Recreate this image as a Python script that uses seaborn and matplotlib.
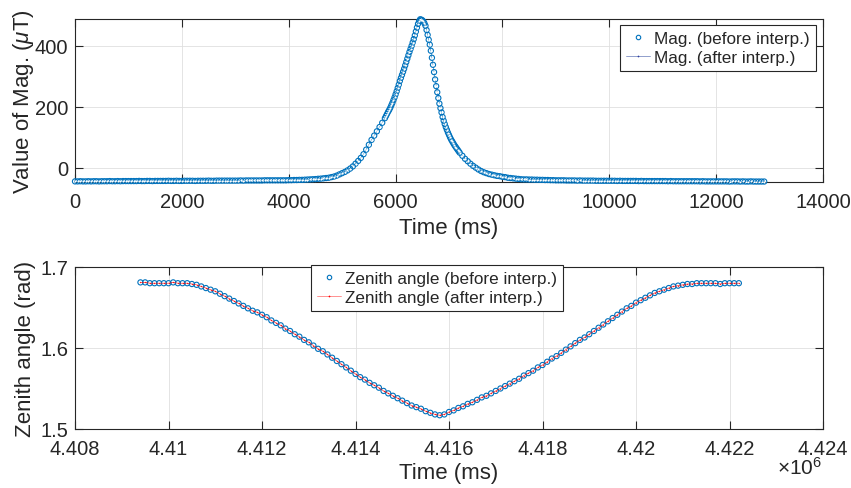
import matplotlib
matplotlib.use("Agg")
import matplotlib.pyplot as plt
from matplotlib.lines import Line2D
import seaborn as sns
import pandas as pd

# ---------------- data ----------------
mag_time = [
    0, 50, 100, 150, 200, 250, 300, 350, 400, 450,
    500, 550, 600, 650, 700, 750, 800, 850, 900, 950,
    1000, 1050, 1100, 1150, 1200, 1250, 1300, 1350, 1400, 1450,
    1500, 1550, 1600, 1650, 1700, 1750, 1800, 1850, 1900, 1950,
    2000, 2050, 2100, 2150, 2200, 2250, 2300, 2350, 2400, 2450,
    2500, 2550, 2600, 2650, 2700, 2750, 2800, 2850, 2900, 2950,
    3000, 3050, 3100, 3150, 3200, 3250, 3300, 3350, 3400, 3450,
    3500, 3550, 3600, 3650, 3700, 3750, 3800, 3850, 3900, 3950,
    4000, 4050, 4100, 4150, 4200, 4250, 4300, 4350, 4400, 4450,
    4500, 4550, 4600, 4650, 4700, 4750, 4800,
    4850, 4900, 4950, 5000, 5050, 5100, 5150, 5200, 5250, 5300,
    5350, 5400, 5450, 5500, 5550, 5600, 5650, 5700, 5750, 5800,
    5820, 5840, 5860, 5880, 5900, 5920, 5940, 5960, 5980, 6000,
    6020, 6040, 6060, 6080, 6100, 6120, 6140, 6160, 6180, 6200,
    6220, 6240, 6260, 6280, 6300, 6320, 6340, 6360, 6380, 6400,
    6420, 6440, 6460, 6480, 6500, 6520, 6540, 6560, 6580, 6600,
    6620, 6640, 6660, 6680, 6700, 6720, 6740, 6760, 6780, 6800,
    6820, 6840, 6860, 6880, 6900, 6920, 6940, 6960, 6980, 7000,
    7020, 7040, 7060, 7080, 7100, 7120, 7140, 7160, 7180, 7200,
    7250, 7300, 7350, 7400, 7450, 7500, 7550, 7600, 7650, 7700,
    7750, 7800, 7850, 7900, 7950, 8000, 8050, 8100, 8150, 8200,
    8250, 8300, 8350, 8400,
    8450, 8500, 8550, 8600, 8650, 8700, 8750, 8800, 8850, 8900,
    8950, 9000, 9050, 9100, 9150, 9200, 9250, 9300, 9350, 9400,
    9450, 9500, 9550, 9600, 9650, 9700, 9750, 9800, 9850, 9900,
    9950, 10000, 10050, 10100, 10150, 10200, 10250, 10300, 10350, 10400,
    10450, 10500, 10550, 10600, 10650, 10700, 10750, 10800, 10850, 10900,
    10950, 11000, 11050, 11100, 11150, 11200, 11250, 11300, 11350, 11400,
    11450, 11500, 11550, 11600, 11650, 11700, 11750, 11800, 11850, 11900,
    11950, 12000, 12050, 12100, 12150, 12200, 12250, 12300, 12350, 12400,
    12450, 12500, 12550, 12600, 12650, 12700, 12750, 12800, 12850, 12900,
]
mag_value = [
    -44, -44, -43.5, -44, -44, -43.5, -44, -43.5, -43.5, -44,
    -43.5, -43.5, -43.5, -43, -43.5, -43.5, -43, -43.5, -43, -43,
    -43, -43, -43, -43, -42.5, -43, -43, -42.5, -42.5, -43,
    -42.5, -42.5, -42.5, -42.5, -42.5, -42, -42.5, -42.5, -42, -42.5,
    -42.5, -42, -42, -42, -42, -42.5, -42, -42, -42, -42,
    -41.5, -42, -42, -41.5, -41.5, -41.5, -41.5, -41.5, -41.5, -41.5,
    -41.5, -41.5, -41, -41.5, -41, -41, -41, -41, -41, -41,
    -41, -40.5, -40.5, -40.5, -40.5, -40.5, -40.5, -40.5, -40.5, -40.5,
    -40, -40, -39.5, -39.5, -39, -39, -38.5, -38, -37.5, -37,
    -36.5, -35.5, -35, -34, -33, -32, -30,
    -28, -25, -21, -17, -13, -8, -2, 5, 14, 23,
    33, 45, 60, 76, 92, 106, 120, 134, 148, 163,
    170, 177, 184, 190, 197, 205, 213, 222, 231, 241,
    251, 262, 273, 285, 295, 305, 315, 325, 336, 347,
    358, 369, 380, 390, 400, 411, 422, 434, 447, 460,
    472, 481, 487, 486, 484, 480, 474, 466, 452, 436,
    420, 404, 384, 361, 338, 314, 290, 268, 248, 229,
    211, 196, 182, 167, 155, 144, 134, 125, 116, 108,
    100, 93, 87, 81, 75, 70, 65, 60, 55, 50,
    40, 30, 22, 14, 7, 1, -5, -10, -14, -17,
    -20, -22, -24, -26, -27, -29, -30, -32, -33, -34,
    -35, -36, -37, -37.5,
    -37.5, -38, -38, -38.5, -38.5, -39, -39, -39.5, -39.5, -40,
    -40, -40.5, -40.5, -40.5, -40.5, -41, -41, -41, -41, -41.5,
    -41, -41.5, -41.5, -41.5, -41.5, -41.5, -42, -42, -42, -42,
    -42, -42, -42, -42, -42.5, -42, -42.5, -42.5, -42.5, -42.5,
    -42.5, -42.5, -43, -42.5, -43, -43, -43, -43, -43, -43,
    -43, -43, -43, -43.5, -43, -43.5, -43.5, -43.5, -43.5, -43.5,
    -43.5, -43.5, -43.5, -43.5, -43.5, -44, -43.5, -44, -44, -44,
    -44, -44, -44, -44, -44, -44, -44.5, -44, -44, -44,
    -44.5, -44, -44.5, -44.5, -44, -44.5, -44.5, -44.5, -44.5, -44.5,
]

zen_time = [
    4409400, 4409500, 4409600, 4409700, 4409800, 4409900, 4410000, 4410100, 4410200, 4410300,
    4410400, 4410500, 4410600, 4410700, 4410800, 4410900, 4411000, 4411100, 4411200, 4411300,
    4411400, 4411500, 4411600, 4411700, 4411800, 4411900, 4412000, 4412100, 4412200, 4412300,
    4412400, 4412500, 4412600, 4412700, 4412800, 4412900, 4413000, 4413100, 4413200, 4413300,
    4413400, 4413500, 4413600, 4413700, 4413800, 4413900, 4414000, 4414100, 4414200, 4414300,
    4414400, 4414500, 4414600, 4414700, 4414800, 4414900, 4415000, 4415100, 4415200, 4415300,
    4415400, 4415500, 4415600, 4415700, 4415800, 4415900, 4416000, 4416100, 4416200, 4416300,
    4416400, 4416500, 4416600, 4416700, 4416800, 4416900, 4417000, 4417100, 4417200, 4417300,
    4417400, 4417500, 4417600, 4417700, 4417800, 4417900, 4418000, 4418100, 4418200, 4418300,
    4418400, 4418500, 4418600, 4418700, 4418800, 4418900, 4419000, 4419100, 4419200, 4419300,
    4419400, 4419500, 4419600, 4419700, 4419800, 4419900, 4420000, 4420100, 4420200, 4420300,
    4420400, 4420500, 4420600, 4420700, 4420800, 4420900, 4421000, 4421100, 4421200, 4421300,
    4421400, 4421500, 4421600, 4421700, 4421800, 4421900, 4422000, 4422100, 4422200,
]
zen_value = [
    1.681, 1.681, 1.680, 1.680, 1.680, 1.680, 1.680, 1.681, 1.680, 1.680,
    1.680, 1.679, 1.678, 1.676, 1.674, 1.672, 1.670, 1.667, 1.664, 1.661,
    1.658, 1.655, 1.652, 1.649, 1.646, 1.644, 1.641, 1.638, 1.634, 1.631,
    1.628, 1.624, 1.621, 1.617, 1.614, 1.610, 1.607, 1.603, 1.599, 1.596,
    1.592, 1.588, 1.584, 1.580, 1.576, 1.572, 1.568, 1.564, 1.561, 1.557,
    1.554, 1.551, 1.547, 1.544, 1.541, 1.538, 1.535, 1.532, 1.529, 1.527,
    1.525, 1.522, 1.520, 1.518, 1.517, 1.518, 1.521, 1.523, 1.526, 1.528,
    1.531, 1.533, 1.536, 1.539, 1.541, 1.544, 1.547, 1.550, 1.553, 1.556,
    1.559, 1.562, 1.566, 1.569, 1.572, 1.576, 1.579, 1.583, 1.587, 1.590,
    1.594, 1.598, 1.602, 1.606, 1.610, 1.613, 1.617, 1.621, 1.625, 1.629,
    1.633, 1.637, 1.641, 1.645, 1.649, 1.652, 1.656, 1.659, 1.662, 1.665,
    1.668, 1.670, 1.672, 1.674, 1.676, 1.677, 1.678, 1.679, 1.679, 1.680,
    1.680, 1.680, 1.680, 1.680, 1.679, 1.680, 1.680, 1.680, 1.680,
]

top_xticks = [0, 2000, 4000, 6000, 8000, 10000, 12000, 14000]
top_yticks = [0, 200, 400]
bot_xticks = [4408000, 4410000, 4412000, 4414000, 4416000, 4418000, 4420000, 4422000, 4424000]
bot_xticklabels = ["4.408", "4.41", "4.412", "4.414", "4.416", "4.418", "4.42", "4.422", "4.424"]
bot_yticks = [1.5, 1.6, 1.7]

mag_df = pd.DataFrame({"t": mag_time, "v": mag_value})
zen_df = pd.DataFrame({"t": zen_time, "v": zen_value})

# ---------------- style ----------------
sns.set_theme(style="white")
plt.rcParams["font.family"] = ["Liberation Sans", "DejaVu Sans"]
plt.rcParams["mathtext.fontset"] = "custom"
plt.rcParams["mathtext.rm"] = "Liberation Sans"
plt.rcParams["mathtext.it"] = "Liberation Sans:italic"
TXT = "#262626"
BLUE = "#0072BD"
W, H = 851, 489
TICK_FS = 14.5
LABEL_FS = 16
LEG_FS = 12.3

fig = plt.figure(figsize=(W / 100, H / 100), dpi=100)
fig.patch.set_facecolor("white")


def fx(px):
    return px / W


def fy(py):
    return 1 - py / H


ax1 = fig.add_axes([fx(75), fy(183.3), fx(823) - fx(75), fy(20) - fy(183.3)])
ax2 = fig.add_axes([fx(75), fy(430), fx(823) - fx(75), fy(268) - fy(430)])

# top panel
sns.scatterplot(data=mag_df, x="t", y="v", ax=ax1, marker="o", s=14,
                facecolors="none", edgecolor=BLUE, linewidth=0.8, legend=False,
                zorder=3, clip_on=False)
sns.lineplot(data=mag_df, x="t", y="v", ax=ax1, color=BLUE, lw=0.4,
             marker=".", markersize=1.5, legend=False, zorder=4, sort=False,
             estimator=None)

# bottom panel
sns.scatterplot(data=zen_df, x="t", y="v", ax=ax2, marker="o", s=14,
                facecolors="none", edgecolor=BLUE, linewidth=0.8, legend=False,
                zorder=3, clip_on=False)
sns.lineplot(data=zen_df, x="t", y="v", ax=ax2, color="#FF0000", lw=0.5,
             alpha=0.8, marker=".", markersize=2, markeredgewidth=0,
             legend=False, zorder=4, sort=False, estimator=None)

for ax in (ax1, ax2):
    ax.set_facecolor("white")
    for sp in ax.spines.values():
        sp.set_visible(True)
        sp.set_color(TXT)
        sp.set_linewidth(0.8)
    ax.tick_params(direction="in", length=5.5, width=0.8, colors=TXT,
                   labelsize=TICK_FS, top=True, right=True, bottom=True, left=True,
                   labelcolor=TXT)
    ax.tick_params(axis="x", pad=7)
    ax.tick_params(axis="y", pad=5)
    ax.grid(True, color="#DFDFDF", lw=0.6)
    ax.set_axisbelow(True)

ax1.set_xlim(0, 14000)
ax1.set_ylim(-47, 488)
ax1.set_xticks(top_xticks)
ax1.set_xticklabels([str(v) for v in top_xticks])
ax1.set_yticks(top_yticks)
ax1.set_yticklabels([str(v) for v in top_yticks])
ax1.set_xlabel("Time (ms)", fontsize=LABEL_FS, color=TXT, labelpad=4)
ax1.set_ylabel("Value of Mag. ($\\mu$T)", fontsize=LABEL_FS, color=TXT)
ax1.yaxis.set_label_coords((36 - 75) / 748, 0.5)

ax2.set_xlim(4408000, 4424000)
ax2.set_ylim(1.5, 1.7)
ax2.set_xticks(bot_xticks)
ax2.set_xticklabels(bot_xticklabels)
ax2.set_yticks(bot_yticks)
ax2.set_yticklabels([f"{v:g}" for v in bot_yticks])
ax2.set_xlabel("Time (ms)", fontsize=LABEL_FS, color=TXT, labelpad=3)
ax2.set_ylabel("Zenith angle (rad)", fontsize=LABEL_FS, color=TXT)
ax2.yaxis.set_label_coords((36 - 75) / 748, 0.5)

fig.text(fx(800), fy(468), "$\\times10^{6}$", fontsize=15, color=TXT,
         ha="center", va="center")

# legends
h_before = Line2D([], [], ls="none", marker="o", markersize=3.2,
                  markerfacecolor="none", markeredgecolor=BLUE, markeredgewidth=0.8)
h_after1 = Line2D([], [], color="#7F8FC4", lw=0.6, marker=".", markersize=2.5,
                  markerfacecolor="#3040A0", markeredgewidth=0)
h_after2 = Line2D([], [], color="#FF8080", lw=0.6, marker=".", markersize=2.5,
                  markerfacecolor="#FF0000", markeredgewidth=0)

leg1 = ax1.legend([h_before, h_after1],
                  ["Mag. (before interp.)", "Mag. (after interp.)"],
                  loc="upper right", bbox_to_anchor=(fx(816), fy(26)),
                  bbox_transform=fig.transFigure, borderaxespad=0,
                  fontsize=LEG_FS, frameon=True, fancybox=False,
                  edgecolor=TXT, framealpha=1, handlelength=1.4,
                  handletextpad=0.25, labelspacing=0.25, borderpad=0.35)
leg1.get_frame().set_linewidth(0.8)
for t in leg1.get_texts():
    t.set_color(TXT)

leg2 = ax2.legend([h_before, h_after2],
                  ["Zenith angle (before interp.)", "Zenith angle (after interp.)"],
                  loc="upper left", bbox_to_anchor=(fx(311), fy(266)),
                  bbox_transform=fig.transFigure, borderaxespad=0,
                  fontsize=LEG_FS, frameon=True, fancybox=False,
                  edgecolor=TXT, framealpha=1, handlelength=1.4,
                  handletextpad=0.25, labelspacing=0.25, borderpad=0.35)
leg2.get_frame().set_linewidth(0.8)
for t in leg2.get_texts():
    t.set_color(TXT)

fig.savefig("out.png", dpi=100, facecolor="white")
